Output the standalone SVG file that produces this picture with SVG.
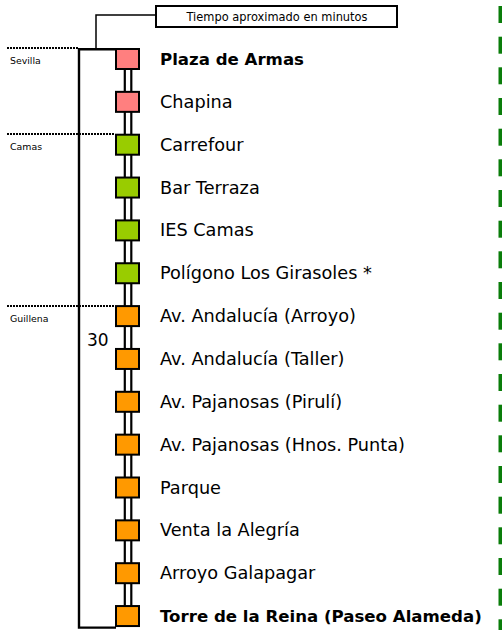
<svg xmlns="http://www.w3.org/2000/svg" width="502" height="630" viewBox="0 0 502 630">
<style>
.sq{stroke:#000;stroke-width:2}
.p{fill:#ff7f7f}.g{fill:#99cc00}.o{fill:#ff9900}
.lbl{font-family:"DejaVu Sans",sans-serif;font-size:17.7px;fill:#000}
.b{font-weight:bold;font-size:16.6px}
.zone{font-family:"DejaVu Sans",sans-serif;font-size:9.4px;fill:#000}
.dot{stroke:#000;stroke-width:2;stroke-dasharray:2 1;fill:none}
.ln{stroke:#000;fill:none}
.gm{fill:#0a7d0a}
</style>
<rect width="502" height="630" fill="#fff"/>
<g id="connectors">
<line class="ln" x1="124.8" y1="60" x2="124.8" y2="615" stroke-width="2.2"/>
<line class="ln" x1="131.3" y1="60" x2="131.3" y2="615" stroke-width="2.2"/>
<polyline class="ln" stroke-width="2.4" points="116,49.2 79,49.2 79,627.6 116,627.6"/>
<polyline class="ln" stroke-width="1.5" points="96,49 96,15 156,15"/>
<line class="dot" x1="7" y1="48" x2="78" y2="48"/>
<line class="dot" x1="7" y1="134" x2="114" y2="134"/>
<line class="dot" x1="7" y1="306" x2="114" y2="306"/>
</g>
<g id="legend">
<rect x="156" y="6" width="241" height="21" fill="#fff" stroke="#000" stroke-width="2"/>
<text x="277" y="21" text-anchor="middle" font-family="DejaVu Sans, sans-serif" font-size="12.3" textLength="181" lengthAdjust="spacingAndGlyphs">Tiempo aproximado en minutos</text>
</g>
<g id="zones">
<text class="zone" x="10" y="64">Sevilla</text>
<text class="zone" x="10" y="149.5">Camas</text>
<text class="zone" x="10" y="321.5">Guillena</text>
<text x="87" y="346" font-family="DejaVu Sans, sans-serif" font-size="17">30</text>
</g>
<g id="s0"><rect class="sq p" x="116" y="49" width="23" height="20"/><text class="lbl b" x="160" y="65">Plaza de Armas</text></g>
<g id="s1"><rect class="sq p" x="116" y="91.85" width="23" height="20"/><text class="lbl" x="160" y="107.85">Chapina</text></g>
<g id="s2"><rect class="sq g" x="116" y="134.7" width="23" height="20"/><text class="lbl" x="160" y="150.7">Carrefour</text></g>
<g id="s3"><rect class="sq g" x="116" y="177.55" width="23" height="20"/><text class="lbl" x="160" y="193.55">Bar Terraza</text></g>
<g id="s4"><rect class="sq g" x="116" y="220.4" width="23" height="20"/><text class="lbl" x="160" y="236.4">IES Camas</text></g>
<g id="s5"><rect class="sq g" x="116" y="263.25" width="23" height="20"/><text class="lbl" x="160" y="279.25">Polígono Los Girasoles *</text></g>
<g id="s6"><rect class="sq o" x="116" y="306.1" width="23" height="20"/><text class="lbl" x="160" y="322.1">Av. Andalucía (Arroyo)</text></g>
<g id="s7"><rect class="sq o" x="116" y="348.95" width="23" height="20"/><text class="lbl" x="160" y="364.95">Av. Andalucía (Taller)</text></g>
<g id="s8"><rect class="sq o" x="116" y="391.8" width="23" height="20"/><text class="lbl" x="160" y="407.8">Av. Pajanosas (Pirulí)</text></g>
<g id="s9"><rect class="sq o" x="116" y="434.65" width="23" height="20"/><text class="lbl" x="160" y="450.65">Av. Pajanosas (Hnos. Punta)</text></g>
<g id="s10"><rect class="sq o" x="116" y="477.5" width="23" height="20"/><text class="lbl" x="160" y="493.5">Parque</text></g>
<g id="s11"><rect class="sq o" x="116" y="520.35" width="23" height="20"/><text class="lbl" x="160" y="536.35">Venta la Alegría</text></g>
<g id="s12"><rect class="sq o" x="116" y="563.2" width="23" height="20"/><text class="lbl" x="160" y="579.2">Arroyo Galapagar</text></g>
<g id="s13"><rect class="sq o" x="116" y="606.05" width="23" height="20"/><text class="lbl b" x="160" y="622.05">Torre de la Reina (Paseo Alameda)</text></g>
<g id="marks">
<rect class="gm" x="498.5" y="6" width="4" height="17"/>
<rect class="gm" x="498.5" y="36.7" width="4" height="17"/>
<rect class="gm" x="498.5" y="67.3" width="4" height="17"/>
<rect class="gm" x="498.5" y="98" width="4" height="17"/>
<rect class="gm" x="498.5" y="128.7" width="4" height="17"/>
<rect class="gm" x="498.5" y="159.3" width="4" height="17"/>
<rect class="gm" x="498.5" y="190" width="4" height="17"/>
<rect class="gm" x="498.5" y="220.7" width="4" height="17"/>
<rect class="gm" x="498.5" y="251.3" width="4" height="17"/>
<rect class="gm" x="498.5" y="282" width="4" height="17"/>
<rect class="gm" x="498.5" y="312.7" width="4" height="17"/>
<rect class="gm" x="498.5" y="343.3" width="4" height="17"/>
<rect class="gm" x="498.5" y="374" width="4" height="17"/>
<rect class="gm" x="498.5" y="404.7" width="4" height="17"/>
<rect class="gm" x="498.5" y="435.3" width="4" height="17"/>
<rect class="gm" x="498.5" y="466" width="4" height="17"/>
<rect class="gm" x="498.5" y="496.7" width="4" height="17"/>
<rect class="gm" x="498.5" y="527.3" width="4" height="17"/>
<rect class="gm" x="498.5" y="558" width="4" height="17"/>
<rect class="gm" x="498.5" y="588.7" width="4" height="17"/>
<rect class="gm" x="498.5" y="619.3" width="4" height="17"/>
</g>
</svg>
